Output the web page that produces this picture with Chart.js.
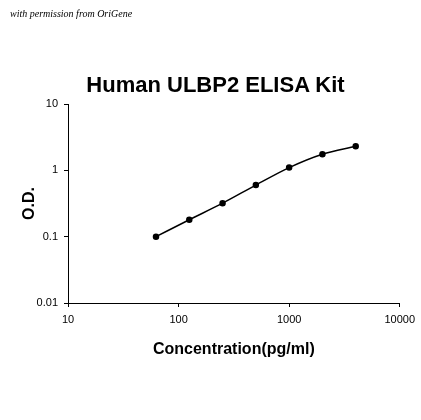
<!DOCTYPE html>
<html><head><meta charset="utf-8">
<script src="https://cdn.jsdelivr.net/npm/chart.js@4"></script>
<style>
html,body{margin:0;padding:0;background:#fff;}
#wrap{position:relative;width:421px;height:420px;}
#wm{position:absolute;left:10px;top:8px;font:italic 10px "Liberation Serif",serif;color:#000;}
#ttl{position:absolute;left:0;width:421px;top:72px;text-align:center;font:bold 22px "Liberation Sans",Arial,sans-serif;color:#000;padding-left:10px;box-sizing:border-box;}
</style></head><body>
<div id="wrap">
<div id="wm">with permission from OriGene</div>
<div id="ttl">Human ULBP2 ELISA Kit</div>
<canvas id="c" width="421" height="420"></canvas>
</div>
<script>
const concentrations=[62.5,125,250,500,1000,2000,4000];
const odValues=[0.1,0.18,0.32,0.6,1.1,1.75,2.3];
const xTicks=[10,100,1000,10000];
const yTicks=[0.01,0.1,1,10];
const font={family:'"Liberation Sans",Arial,sans-serif',size:11};
new Chart(document.getElementById('c'),{
 type:'scatter',
 data:{datasets:[{data:concentrations.map((x,i)=>({x:x,y:odValues[i]})),showLine:true,borderColor:'#000',backgroundColor:'#000',borderWidth:1.5,pointRadius:2.5,tension:0.4,cubicInterpolationMode:'monotone'}]},
 options:{responsive:false,animation:false,
  layout:{padding:{left:16,right:19,top:104,bottom:57}},
  plugins:{legend:{display:false},tooltip:{enabled:false}},
  scales:{
   x:{type:'logarithmic',min:10,max:10000,
     afterBuildTicks:a=>{a.ticks=xTicks.map(v=>({value:v}));},
     afterFit:a=>{a.height=60;},
     grid:{display:true,drawOnChartArea:false,drawTicks:true,tickLength:4,color:'#000'},border:{color:'#000',width:1},
     ticks:{color:'#000',font:font,callback:v=>String(v),maxRotation:0,padding:6},
     title:{display:true,text:'Concentration(pg/ml)',color:'#000',font:{family:font.family,size:16,weight:'bold'},padding:{top:8}}},
   y:{type:'logarithmic',min:0.01,max:10,
     afterBuildTicks:a=>{a.ticks=yTicks.map(v=>({value:v}));},
     afterFit:a=>{a.width=52;},
     grid:{display:true,drawOnChartArea:false,drawTicks:true,tickLength:4,color:'#000'},border:{color:'#000',width:1},
     ticks:{color:'#000',font:font,callback:v=>String(v),padding:6},
     title:{display:true,text:'O.D.',color:'#000',font:{family:font.family,size:16,weight:'bold'},padding:{bottom:4}}}
  }}
});
</script>
</body></html>
